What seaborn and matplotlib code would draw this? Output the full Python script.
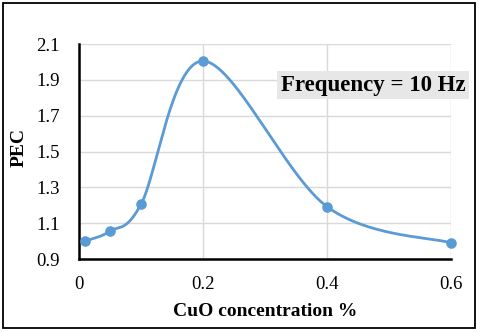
import numpy as np
import pandas as pd
import seaborn as sns
import matplotlib
matplotlib.use("Agg")
import matplotlib.pyplot as plt
from matplotlib.patches import Rectangle

# Data
cuo_conc = [0.01, 0.05, 0.1, 0.2, 0.4, 0.6]
pec = [1.0, 1.055, 1.205, 2.005, 1.192, 0.99]
x_ticks = [0, 0.2, 0.4, 0.6]
x_tick_labels = ["0", "0.2", "0.4", "0.6"]
y_ticks = [0.9, 1.1, 1.3, 1.5, 1.7, 1.9, 2.1]
y_tick_labels = ["0.9", "1.1", "1.3", "1.5", "1.7", "1.9", "2.1"]

sns.set_theme(style="white")
plt.rcParams['font.family'] = ['Liberation Serif', 'DejaVu Serif']

fig = plt.figure(figsize=(4.8, 3.32), dpi=100)
ax = fig.add_axes([79/480, 73/332, 372/480, 215/332])

xmin, xmax, ymin, ymax = 0, 0.6, 0.9, 2.1
W, H = 372.0, 215.0

# Excel-like smoothed line (Catmull-Rom Bezier in screen space)
px = (np.array(cuo_conc) - xmin) / (xmax - xmin) * W
py = (np.array(pec) - ymin) / (ymax - ymin) * H
P = np.column_stack([px, py])
n = len(P)
curve = []
t = np.linspace(0, 1, 60)
for i in range(n - 1):
    p0 = P[i - 1] if i > 0 else P[i]
    p1 = P[i]
    p2 = P[i + 1]
    p3 = P[i + 2] if i + 2 < n else P[i + 1]
    c1 = p1 + (p2 - p0) / 6.0
    c2 = p2 - (p3 - p1) / 6.0
    seg = ((1 - t)[:, None] ** 3 * p1 + 3 * ((1 - t) ** 2 * t)[:, None] * c1
           + 3 * ((1 - t) * t ** 2)[:, None] * c2 + (t ** 3)[:, None] * p2)
    curve.append(seg if i == 0 else seg[1:])
curve = np.vstack(curve)
cx = curve[:, 0] / W * (xmax - xmin) + xmin
cy = curve[:, 1] / H * (ymax - ymin) + ymin

color = "#5B9BD5"
ax.plot(cx, cy, color=color, lw=2.0, zorder=3, solid_capstyle='round')
df = pd.DataFrame({"CuO": cuo_conc, "PEC": pec})
sns.scatterplot(data=df, x="CuO", y="PEC", ax=ax, color=color, s=58,
                edgecolor=color, linewidth=0, zorder=4, clip_on=False)

ax.set_xlim(xmin, xmax)
ax.set_ylim(ymin, ymax)
ax.set_xticks(x_ticks)
ax.set_xticklabels(x_tick_labels)
ax.set_yticks(y_ticks)
ax.set_yticklabels(y_tick_labels)
ax.grid(True, color="#d9d9d9", lw=1.0)
ax.set_axisbelow(True)
for s in ["top", "right"]:
    ax.spines[s].set_visible(False)
for s in ["left", "bottom"]:
    ax.spines[s].set_color("black")
    ax.spines[s].set_linewidth(1.8)
ax.tick_params(axis="both", direction="out", length=5, width=1.5,
               color="black", labelsize=13.5, labelcolor="black")
ax.tick_params(axis="x", pad=7)
ax.tick_params(axis="y", pad=9)

ax.set_xlabel("CuO concentration %", fontsize=14, fontweight="bold",
              color="black")
ax.set_ylabel("PEC", fontsize=14, fontweight="bold", color="black")
ax.xaxis.set_label_coords(0.5, -0.205)
ax.yaxis.set_label_coords(-0.137, 0.52)

ax.text(0.474, 1.871, "Frequency = 10 Hz", fontsize=16.5, fontweight="bold",
        ha="center", va="center", color="black", zorder=5,
        bbox=dict(boxstyle="square,pad=0.15", fc="#e7e7e7", ec="none"))

fig.patches.append(Rectangle((3/480, 4/332), 472/480, 325/332,
                             transform=fig.transFigure, fill=False,
                             ec="black", lw=1.3))

fig.savefig("out.png", dpi=100)
